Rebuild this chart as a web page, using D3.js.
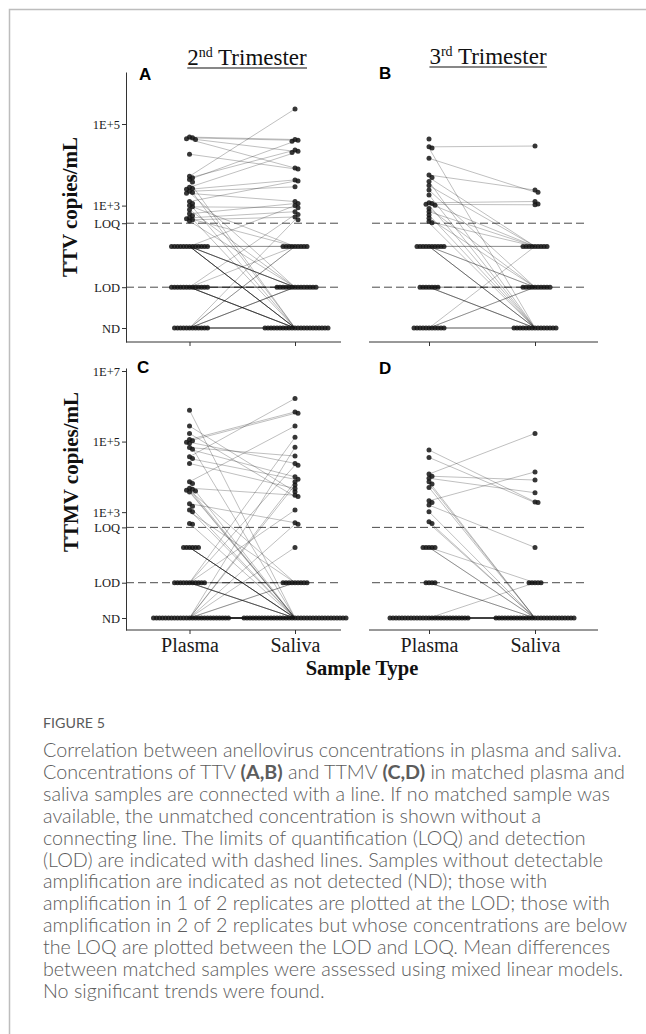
<!DOCTYPE html>
<html>
<head>
<meta charset="utf-8">
<script src="https://cdn.jsdelivr.net/npm/d3@7"></script>
<style>
  body { margin: 0; background: #fff; }
  svg { display: block; }
</style>
</head>
<body>
<script>
// ---- data ---------------------------------------------------------------
// values are copies/mL; 'BLQ' = between LOD and LOQ, 'LOD' = at LOD, 'ND' = not detected
// null = no sample of that type (unmatched)
var sampleTypes = ['Plasma', 'Saliva'];
var LOQ = 370, BLQ = 100, LOD = 10, ND = 1;

var ttvTicks = [1e5, 1e3, 'LOQ', 'LOD', 'ND'];
var ttmvTicks = [1e7, 1e5, 1e3, 'LOQ', 'LOD', 'ND'];

// panel A: TTV, 2nd trimester
var ttv2Plasma = [
  47860, 45710, 43650, 41690, 18200, 5248, 4786, 4365, 2818, 2512, 2239, 1995, 1259,
  631, 933, 501, 447, 3802, 2630, 2089, 1122, 1000, 794, 562, 479, 417,
  'BLQ', 'BLQ', 'BLQ', 'BLQ', 'BLQ', 'BLQ', 'BLQ', 'BLQ', 'BLQ', 'BLQ', 'BLQ', 'BLQ', 'BLQ',
  'LOD', 'LOD', 'LOD', 'LOD', 'LOD', 'LOD', 'LOD', 'LOD', 'LOD', 'LOD', 'LOD', 'LOD', 'LOD',
  'ND', 'ND', 'ND', 'ND', 'ND', 'ND', 'ND', 'ND', 'ND', 'ND', 'ND', 'ND',
  null, null, null, null, null
];
var ttv2Saliva = [
  41690, 39810, 21380, 8318, 7943, 234400, 22900, 38020, 19950, 4266, 2884, 1259, 3981,
  1122, 891, 708, 525, 'ND', 'ND', 'LOD', 'ND', 'BLQ', 'LOD', 'ND', 'BLQ', 'LOD',
  1000, 'BLQ', 'BLQ', 'LOD', 'LOD', 'LOD', 'LOD', 'ND', 'ND', 'ND', 'ND', 'ND', null,
  603, 'BLQ', 'LOD', 'LOD', 'LOD', 'LOD', 'ND', 'ND', 'ND', 'ND', 'ND', null, null,
  447, 'BLQ', 'BLQ', 'LOD', 'LOD', 'LOD', 'ND', 'ND', 'ND', 'ND', 'ND', null,
  'BLQ', 'BLQ', 'ND', 'ND', 'ND'
];

// panel B: TTV, 3rd trimester
var ttv3Plasma = [
  42660, 27540, 25700, 14450, 5623, 4898, 3890, 3090, 2399, 1820, 1175, 1122, 1072,
  1023, 851, 708, 589, 490, 407, 380,
  'BLQ', 'BLQ', 'BLQ', 'BLQ', 'BLQ', 'BLQ', 'BLQ', 'BLQ', 'BLQ', 'BLQ',
  'LOD', 'LOD', 'LOD', 'LOD', 'LOD', 'LOD', 'LOD',
  'ND', 'ND', 'ND', 'ND', 'ND', 'ND', 'ND', 'ND', 'ND', 'ND', 'ND',
  null, null, null
];
var ttv3Saliva = [
  null, 28840, 'ND', 2138, 2399, 'BLQ', 'ND', 'BLQ', 'LOD', 'ND', 1259, 'BLQ', 1047,
  'ND', 'LOD', 'BLQ', 'ND', 'LOD', 'BLQ', 'ND',
  'BLQ', 'BLQ', 'LOD', 'LOD', 'ND', 'ND', 'ND', null, null, null,
  'LOD', 'LOD', 'ND', 'ND', 'ND', null, null,
  'BLQ', 'LOD', 'LOD', 'ND', 'ND', 'ND', null, null, null, null, null,
  'BLQ', 'LOD', 1100
];

// panel C: TTMV, 2nd trimester
var ttmv2Plasma = [
  776200, 275400, 169800, 114800, 104700, 95500, 89130, 67610, 60260, 37150, 33110, 23990,
  7244, 6457, 4786, 4467, 4169, 3981, 3715, 1738, 1479, 1148, 1023, 479, 457,
  'BLQ', 'BLQ', 'BLQ', 'BLQ', 'BLQ', 'BLQ',
  'LOD', 'LOD', 'LOD', 'LOD', 'LOD', 'LOD', 'LOD', 'LOD', 'LOD', 'LOD', 'LOD',
  'ND', 'ND', 'ND', 'ND', 'ND', 'ND', 'ND', 'ND', 'ND', 'ND', 'ND', 'ND', 'ND',
  'ND', 'ND', 'ND', 'ND', 'ND', 'ND', 'ND', 'ND', 'ND', 'ND', 'ND', 'ND', 'ND',
  null, null, null, null, null, null, null
];
var ttmv2Saliva = [
  'ND', 3802, 2754, 691800, 631000, 23990, 'ND', 38900, 10000, 1660000, 8511, 4677,
  275400, 'ND', 3020, 'ND', 'LOD', 'ND', 'ND', 501, 'ND', 'ND', 'LOD', 'ND', null,
  'ND', 'ND', 'ND', 'ND', 'ND', null,
  131800, 21380, 1148, 'LOD', 'LOD', 'ND', 'ND', 'ND', 'ND', null, null,
  69180, 5888, 457, 7244, 'LOD', 'LOD', 'BLQ', 'ND', 'ND', 'ND', 'ND', 'ND', 'ND',
  'ND', 'ND', 'ND', 'ND', 'ND', 'ND', 'ND', null, null, null, null, null, null,
  'LOD', 'LOD', 'LOD', 'ND', 'ND', 'ND', 'ND'
];

// panel D: TTMV, 3rd trimester
var ttmv3Plasma = [
  57540, 35480, 12020, 10470, 9120, 7244, 6310, 5012, 2089, 1862, 1585, 1023, 537, 479,
  'BLQ', 'BLQ', 'BLQ', 'BLQ', 'BLQ',
  'LOD', 'LOD', 'LOD', 'LOD',
  'ND', 'ND', 'ND', 'ND', 'ND', 'ND', 'ND', 'ND', 'ND', 'ND', 'ND', 'ND', 'ND', 'ND',
  'ND', 'ND', 'ND', 'ND', 'ND', 'ND', 'ND', 'ND', 'ND', 'ND', 'ND', 'ND', 'ND',
  null, null, null, null, null, null, null, null, null, null
];
var ttmv3Saliva = [
  1950, 1862, 169800, 8128, 3548, 'ND', 'ND', 'ND', 13800, null, 'BLQ', 'ND', 'ND', 'ND',
  'LOD', 'ND', 'ND', null, null,
  'ND', 'ND', null, null,
  'LOD', 'ND', 'ND', 'ND', 'ND', 'ND', 'ND', 'ND', 'ND', 'ND', 'ND', null, null, null,
  null, null, null, null, null, null, null, null, null, null, null, null, null,
  'LOD', 'LOD', 'LOD', 'ND', 'ND', 'ND', 'ND', 'ND', 'ND', 'ND'
];

var captionLines = [
  'Correlation between anellovirus concentrations in plasma and saliva.',
  'Concentrations of TTV *(A,B)* and TTMV *(C,D)* in matched plasma and',
  'saliva samples are connected with a line. If no matched sample was',
  'available, the unmatched concentration is shown without a',
  'connecting line. The limits of quantification (LOQ) and detection',
  '(LOD) are indicated with dashed lines. Samples without detectable',
  'amplification are indicated as not detected (ND); those with',
  'amplification in 1 of 2 replicates are plotted at the LOD; those with',
  'amplification in 2 of 2 replicates but whose concentrations are below',
  'the LOQ are plotted between the LOD and LOQ. Mean differences',
  'between matched samples were assessed using mixed linear models.',
  'No significant trends were found.'
];

// ---- layout -------------------------------------------------------------
var serif = '"Liberation Serif", "Times New Roman", serif';
var sans = '"Liberation Sans", Arial, sans-serif';
var capFont = 'Lato, "Open Sans", sans-serif';

var cols = [
  { left: 126, right: 341, xs: [189.5, 295], dash: [126, 341] },
  { left: 369, right: 598, xs: [429, 535], dash: [372, 588] }
];
var rows = [
  { top: 72, bottom: 342, yND: 328, yTop: 124, topVal: 1e5, ticks: ttvTicks },
  { top: 368, bottom: 630, yND: 618, yTop: 371, topVal: 1e7, ticks: ttmvTicks }
];

var panels = [
  { letter: 'A', col: 0, row: 0, plasma: ttv2Plasma, saliva: ttv2Saliva, lx: 139, ly: 80 },
  { letter: 'B', col: 1, row: 0, plasma: ttv3Plasma, saliva: ttv3Saliva, lx: 379, ly: 79 },
  { letter: 'C', col: 0, row: 1, plasma: ttmv2Plasma, saliva: ttmv2Saliva, lx: 137, ly: 373 },
  { letter: 'D', col: 1, row: 1, plasma: ttmv3Plasma, saliva: ttmv3Saliva, lx: 379, ly: 374 }
];

var svg = d3.select('body').append('svg')
    .attr('width', 646)
    .attr('height', 1034);

// page frame (top + left rule)
svg.append('path')
    .attr('d', 'M9.5,1034V9.5H646')
    .attr('fill', 'none')
    .attr('stroke', '#bdbdbd')
    .attr('stroke-width', 1.5);

function levelValue(v) {
  if (v === 'ND') return ND;
  if (v === 'LOD') return LOD;
  if (v === 'BLQ') return BLQ;
  if (v === 'LOQ') return LOQ;
  return v;
}

function tickName(v) {
  return typeof v === 'string' ? v : '1E+' + Math.round(Math.log10(v));
}

// simple swarm: same-level points spread sideways, alternating right/left
function swarm(values, y, xc) {
  var step = 3;
  var pts = [];
  values.forEach(function(v) {
    if (v === null) return;
    pts.push({ y: y(levelValue(v)) });
  });
  pts.sort(function(a, b) { return a.y - b.y; });
  var placed = [];
  pts.forEach(function(p) {
    for (var k = 0; k < 200; k++) {
      var off = k === 0 ? 0 : (k % 2 ? 1 : -1) * Math.ceil(k / 2) * step;
      var free = placed.every(function(q) {
        return Math.hypot(q.x - (xc + off), q.y - p.y) >= step - 0.01;
      });
      if (free) { p.x = xc + off; placed.push(p); break; }
    }
  });
  return placed;
}

panels.forEach(function(p) {
  var c = cols[p.col], r = rows[p.row];
  var base = d3.scaleLog().domain([ND, r.topVal]).range([r.yND, r.yTop]);
  var y = d3.scaleLog()
      .domain([base.invert(r.bottom), base.invert(r.top)])
      .range([r.bottom, r.top]);
  var x = d3.scalePoint().domain(sampleTypes).range(c.xs);

  var g = svg.append('g');

  // LOQ / LOD reference lines
  [LOQ, LOD].forEach(function(v) {
    g.append('line')
      .attr('x1', c.dash[0]).attr('x2', c.dash[1])
      .attr('y1', y(v)).attr('y2', y(v))
      .attr('stroke', '#4a4a4a')
      .attr('stroke-width', 1)
      .attr('stroke-dasharray', '8,4');
  });

  // y axis (left column only)
  if (p.col === 0) {
    var ya = g.append('g')
        .attr('transform', 'translate(' + c.left + ',0)')
        .call(d3.axisLeft(y)
          .tickValues(r.ticks.map(levelValue))
          .tickFormat(function(d, i) { return tickName(r.ticks[i]); })
          .tickSize(4).tickSizeOuter(0).tickPadding(2));
    ya.select('.domain').attr('stroke', '#333');
    ya.selectAll('.tick line').attr('stroke', '#333');
    ya.selectAll('text')
      .attr('fill', '#1a1a1a')
      .style('font-family', serif)
      .style('font-size', '12.5px');
  }

  // x axis
  var xa = g.append('g')
      .attr('transform', 'translate(0,' + r.bottom + ')')
      .call(d3.axisBottom(x).tickSize(4).tickSizeOuter(0).tickPadding(4));
  xa.select('.domain').remove();
  xa.append('line')
    .attr('x1', c.left).attr('x2', c.right)
    .attr('stroke', '#333');
  xa.selectAll('.tick line').attr('stroke', '#333');
  if (p.row === 0) {
    xa.selectAll('.tick text').remove();
  } else {
    xa.selectAll('.tick text')
      .attr('fill', '#1a1a1a')
      .style('font-family', serif)
      .style('font-size', '20px');
  }

  // connecting lines for matched samples
  var pairs = p.plasma.map(function(v, i) { return [v, p.saliva[i]]; })
    .filter(function(d) { return d[0] !== null && d[1] !== null; });
  g.append('g').selectAll('line')
    .data(pairs)
    .enter().append('line')
      .attr('x1', x('Plasma'))
      .attr('x2', x('Saliva'))
      .attr('y1', function(d) { return y(levelValue(d[0])); })
      .attr('y2', function(d) { return y(levelValue(d[1])); })
      .attr('stroke', '#000')
      .attr('stroke-opacity', 0.25)
      .attr('stroke-width', 1);

  // points
  var dots = swarm(p.plasma, y, x('Plasma')).concat(swarm(p.saliva, y, x('Saliva')));
  g.append('g').selectAll('circle')
    .data(dots)
    .enter().append('circle')
      .attr('cx', function(d) { return d.x; })
      .attr('cy', function(d) { return d.y; })
      .attr('r', 2.5)
      .attr('fill', '#141414')
      .attr('fill-opacity', 0.85);

  // panel letter
  svg.append('text')
    .attr('x', p.lx).attr('y', p.ly)
    .style('font-family', sans)
    .style('font-weight', 'bold')
    .style('font-size', '17px')
    .attr('fill', '#000')
    .text(p.letter);
});

// column titles with superscript and underline
function title(cx, baseline, num, sup) {
  var t = svg.append('text')
      .attr('x', cx).attr('y', baseline)
      .attr('text-anchor', 'middle')
      .attr('fill', '#111')
      .style('font-family', serif)
      .style('font-size', '23px');
  t.append('tspan').text(num);
  t.append('tspan').attr('dy', -8).style('font-size', '14px').text(sup);
  t.append('tspan').attr('dy', 8).text(' Trimester');
  var bb = t.node().getBBox();
  svg.append('line')
    .attr('x1', bb.x).attr('x2', bb.x + bb.width)
    .attr('y1', baseline + 3).attr('y2', baseline + 3)
    .attr('stroke', '#111')
    .attr('stroke-width', 1.2);
}
title(247, 65, '2', 'nd');
title(488, 64, '3', 'rd');

// y axis titles
[['TTV copies/mL', 77, 207], ['TTMV copies/mL', 78, 472]].forEach(function(d) {
  svg.append('text')
    .attr('transform', 'translate(' + d[1] + ',' + d[2] + ') rotate(-90)')
    .attr('text-anchor', 'middle')
    .attr('fill', '#111')
    .style('font-family', serif)
    .style('font-weight', 'bold')
    .style('font-size', '21px')
    .text(d[0]);
});

// x axis title
svg.append('text')
  .attr('x', 362).attr('y', 675)
  .attr('text-anchor', 'middle')
  .attr('fill', '#111')
  .style('font-family', serif)
  .style('font-weight', 'bold')
  .style('font-size', '20.5px')
  .text('Sample Type');

// caption
var figLabel = svg.append('text')
  .attr('x', 43).attr('y', 728)
  .attr('fill', '#5a5a5a')
  .style('font-family', capFont)
  .style('font-size', '14px')
  .text('FIGURE 5');
// scale the label to the width it has in the figure (~62px)
figLabel.style('font-size', (14 * 62 / figLabel.node().getComputedTextLength()) + 'px');

var capLines = captionLines.map(function(line, i) {
  var t = svg.append('text')
      .attr('x', 43).attr('y', 757 + i * 21.9)
      .attr('fill', '#5c5c5c')
      .style('font-family', capFont)
      .style('font-weight', 300)
      .style('font-size', '17px');
  line.split('*').forEach(function(part, j) {
    if (!part) return;
    t.append('tspan')
      .style('font-weight', j % 2 ? 'bold' : 300)
      .text(part);
  });
  return t;
});
// first caption line runs from x=43 to about x=622 in the figure
var capSize = 17 * 579 / capLines[0].node().getComputedTextLength();
capLines.forEach(function(t) { t.style('font-size', capSize + 'px'); });
</script>
</body>
</html>
